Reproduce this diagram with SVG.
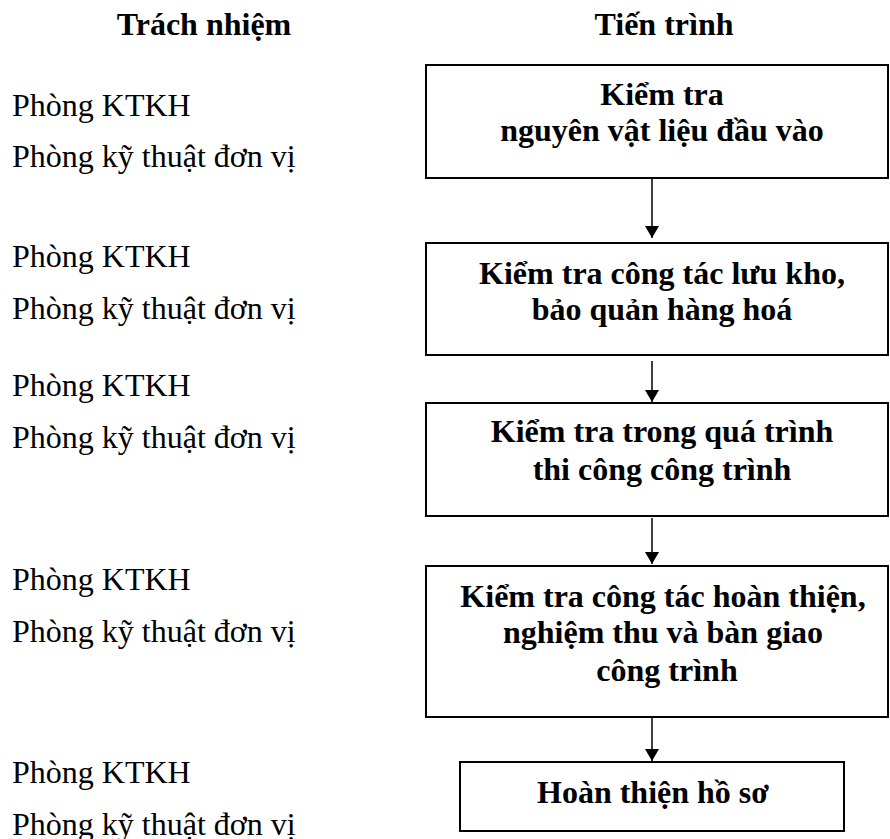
<svg xmlns="http://www.w3.org/2000/svg" width="890" height="839" viewBox="0 0 890 839">
<style>
.h{font-family:"Liberation Serif","Times New Roman",serif;font-size:32px;font-weight:bold;fill:#000;text-anchor:middle}
.l{font-family:"Liberation Serif","Times New Roman",serif;font-size:32px;fill:#000}
.b{fill:#fff;stroke:#000;stroke-width:2}
.c{stroke:#000;stroke-width:1.5;fill:none}
</style>
<defs>
<marker id="ah" markerWidth="12" markerHeight="14" refX="12" refY="7" orient="auto" markerUnits="userSpaceOnUse">
<path d="M0,0 L12,7 L0,14 Z" fill="#000"/>
</marker>
</defs>
<rect width="890" height="839" fill="#fff"/>
<g id="headers">
<text class="h" x="204" y="35">Trách nhiệm</text>
<text class="h" x="664" y="35">Tiến trình</text>
</g>
<g id="responsibility">
<text class="l" x="12" y="116">Phòng KTKH</text>
<text class="l" x="12" y="167">Phòng kỹ thuật đơn vị</text>
<text class="l" x="12" y="267">Phòng KTKH</text>
<text class="l" x="12" y="319">Phòng kỹ thuật đơn vị</text>
<text class="l" x="12" y="396">Phòng KTKH</text>
<text class="l" x="12" y="448">Phòng kỹ thuật đơn vị</text>
<text class="l" x="12" y="590">Phòng KTKH</text>
<text class="l" x="12" y="642">Phòng kỹ thuật đơn vị</text>
<text class="l" x="12" y="783">Phòng KTKH</text>
<text class="l" x="12" y="835">Phòng kỹ thuật đơn vị</text>
</g>
<g id="connectors">
<line class="c" x1="652" y1="179" x2="652" y2="238" marker-end="url(#ah)"/>
<line class="c" x1="652" y1="361" x2="652" y2="402" marker-end="url(#ah)"/>
<line class="c" x1="652" y1="518" x2="652" y2="564" marker-end="url(#ah)"/>
<line class="c" x1="652" y1="718" x2="652" y2="761" marker-end="url(#ah)"/>
</g>
<g id="n1">
<rect class="b" x="426" y="65" width="462" height="113"/>
<text class="h" x="662" y="105">Kiểm tra</text>
<text class="h" x="662" y="141">nguyên vật liệu đầu vào</text>
</g>
<g id="n2">
<rect class="b" x="426" y="243" width="462" height="112"/>
<text class="h" x="662" y="284">Kiểm tra công tác lưu kho,</text>
<text class="h" x="662" y="320">bảo quản hàng hoá</text>
</g>
<g id="n3">
<rect class="b" x="426" y="403" width="462" height="113"/>
<text class="h" x="662" y="442">Kiểm tra trong quá trình</text>
<text class="h" x="662" y="480">thi công công trình</text>
</g>
<g id="n4">
<rect class="b" x="426" y="566" width="462" height="151"/>
<text class="h" x="663" y="607">Kiểm tra công tác hoàn thiện,</text>
<text class="h" x="663" y="643">nghiệm thu và bàn giao</text>
<text class="h" x="667" y="681">công trình</text>
</g>
<g id="n5">
<rect class="b" x="460" y="762" width="384" height="69"/>
<text class="h" x="653" y="803">Hoàn thiện hồ sơ</text>
</g>
</svg>
